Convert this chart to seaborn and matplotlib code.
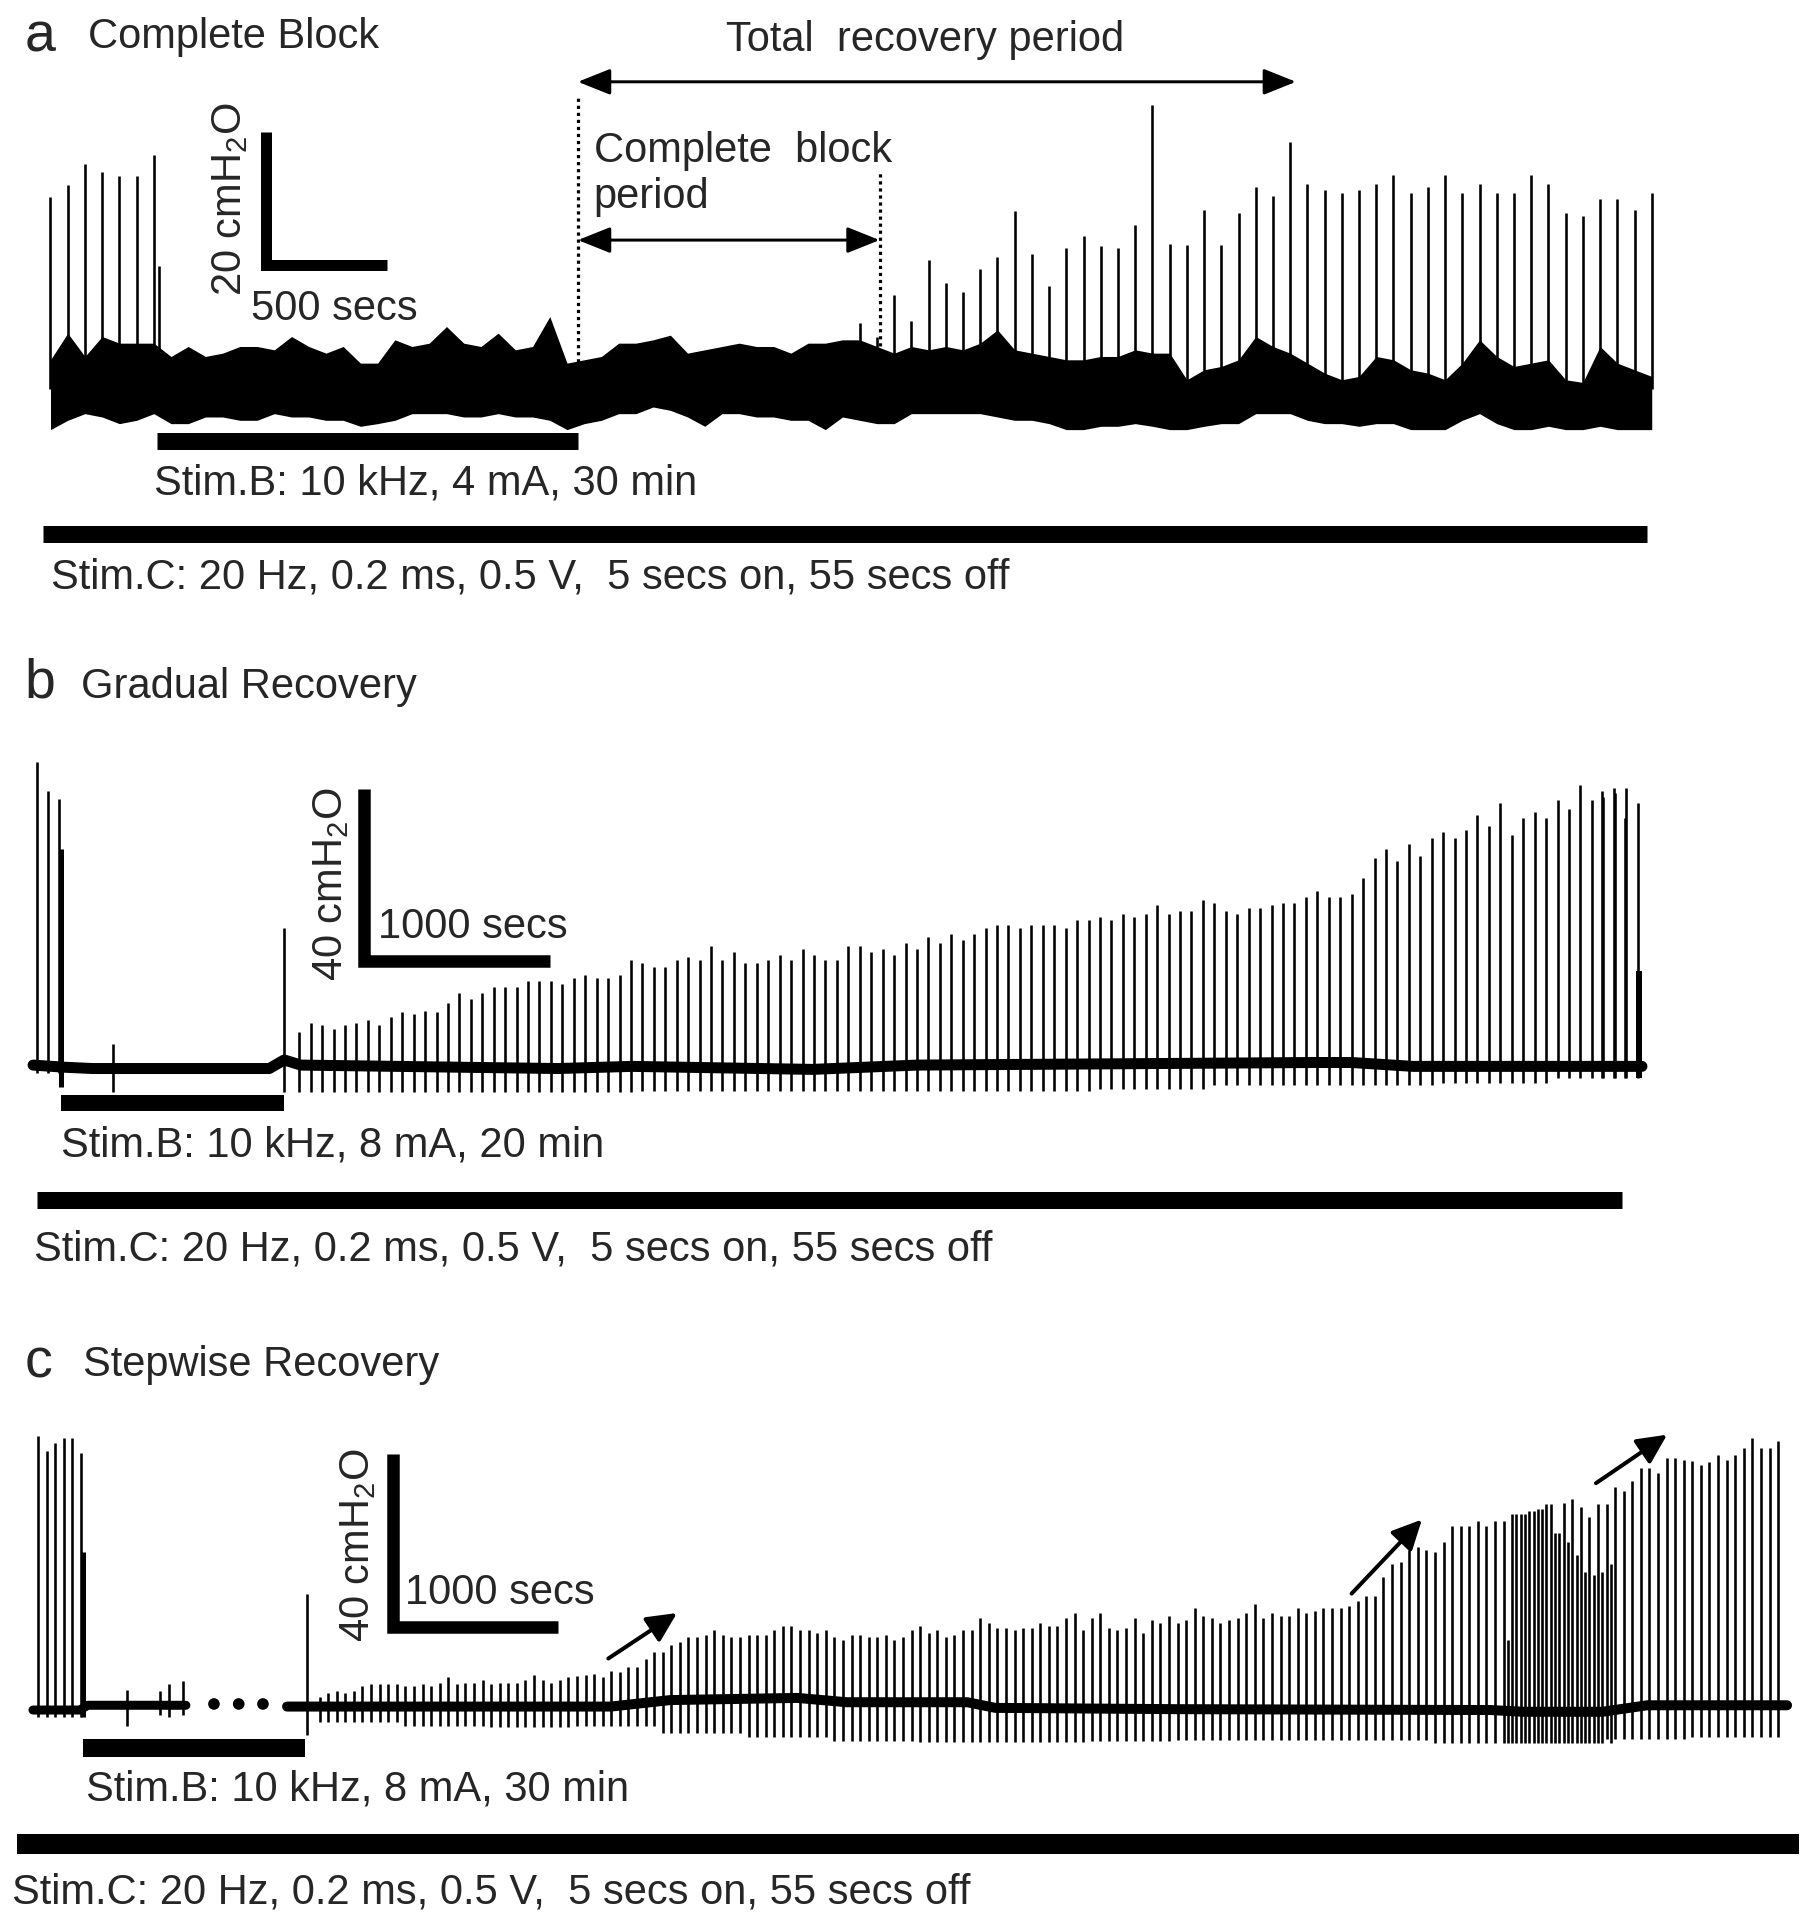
import matplotlib
matplotlib.use("Agg")
import matplotlib.pyplot as plt
import matplotlib.transforms as mtransforms
import numpy as np
import seaborn as sns

# ---------------- panel a : complete block ----------------
a_period = 71                      # secs between Stim.C trains (trace spacing)
a_pre_h = [28.9, 30.7, 33.8, 32.6, 32.0, 32.0, 35.2]       # cmH2O
a_extra_t = [447]
a_extra_h = [18.5]
a_rec_t0 = 3337
a_rec_h = [10.0, 7.9, 14.1, 10.2, 19.4, 16.0, 14.6, 18.0, 19.8, 26.8, 20.3, 15.5,
           21.2, 23.0, 21.5, 21.2, 24.7, 42.7, 21.8, 21.6, 26.9, 21.6, 26.5, 30.4,
           29.1, 37.1, 30.9, 30.0, 29.5, 30.0, 30.9, 32.2, 29.5, 30.4, 32.2, 29.5,
           30.9, 29.5, 29.5, 32.2, 30.9, 26.5, 26.0, 28.6, 28.6, 26.9, 29.5]
a_noise_hi = [4.4, 8.4, 4.9, 7.9, 6.9, 6.9, 6.9, 4.9, 6.4, 4.9, 5.4, 6.4, 6.4, 5.9,
              7.9, 6.4, 5.4, 6.4, 3.9, 3.9, 7.4, 6.4, 6.9, 9.4, 6.9, 6.4, 8.4, 5.9,
              6.4, 10.9, 3.9, 4.4, 4.9,
              6.9, 6.9, 7.4, 8.1, 5.4, 5.9, 6.4, 6.9, 6.4, 6.4, 5.4, 6.9, 6.9, 7.4,
              7.4, 6.4, 5.4, 6.4, 5.9, 6.4, 5.9, 6.9, 8.9, 5.9, 5.4, 4.9, 4.4, 4.4,
              4.9, 4.9, 5.9, 5.4, 5.4,
              1.4, 2.9, 3.4, 4.4, 7.9, 6.4, 5.4, 3.9, 2.4, 1.4, 1.9, 4.9, 4.4, 2.9,
              2.4, 1.4, 3.9, 7.4, 4.9, 3.4, 3.9, 4.4, 1.4, 1.0, 6.4, 3.9, 2.9, 1.9]
a_noise_lo = [-6.1, -4.7, -3.7, -4.2, -5.2, -4.7, -3.7, -5.2, -5.2, -4.2, -4.2, -4.7,
              -4.7, -3.7, -4.2, -4.2, -4.7, -4.7, -5.6, -5.2, -4.7, -3.7, -3.7, -3.7,
              -4.2, -4.2, -3.7, -4.2, -4.2, -4.7, -6.1, -5.2, -4.7,
              -3.7, -3.7, -2.7, -3.2, -4.2, -5.6, -3.7, -3.7, -4.2, -4.2, -4.7, -4.7,
              -6.1, -4.2, -4.7, -5.2, -5.2, -3.7, -3.7, -3.7, -3.7, -3.7, -4.2, -4.7,
              -4.7, -5.2, -6.1, -6.1, -5.6, -5.6, -5.2, -5.6, -6.1,
              -6.1, -5.6, -5.2, -5.2, -3.7, -3.7, -3.7, -4.7, -5.2, -5.2, -5.6, -5.2,
              -5.2, -6.1, -6.1, -6.1, -4.7, -3.7, -5.2, -6.1, -6.1, -5.6, -6.1, -6.1,
              -5.6, -6.1, -6.1, -6.1]
a_stim_b = [438, 2174]
a_stim_c = [-31, 6585]
a_total_recovery = [2175, 5136]
a_block_period = [2175, 3419]

# ---------------- panel b : gradual recovery ----------------
b_period = 61.5
b_pre_t = [0, 59, 121, 132]
b_pre_h = [70.7, 64.0, 62.0, 50.3]
b_pre_lo = [-1.9, -1.9, -1.9, -5.0]
b_event_t = [412, 1329]
b_event_h = [5.0, 32.0]
b_event_lo = [-6.2, -6.2]
b_rec_t0 = 1411
b_rec_h = [7.8, 9.9, 9.3, 8.5, 9.3, 9.9, 10.6, 9.3, 11.3, 12.4, 11.9, 12.7, 12.4, 14.5,
           16.7, 15.3, 16.7, 18.1, 18.3, 18.3, 19.7, 19.7, 19.7,
           18.9, 20.2, 21.0, 20.2, 20.2, 21.0, 24.5, 23.7, 22.9, 22.9, 24.4, 25.1, 24.4,
           27.8, 24.4, 26.3, 23.7, 23.7, 24.4, 25.7, 24.4, 27.1, 25.7, 24.4, 24.4, 27.8,
           27.8, 26.3, 27.1, 25.7, 28.5, 27.1, 29.8, 28.5, 30.5, 29.2, 30.5, 31.9, 32.6,
           32.6, 31.9, 32.6, 32.6, 32.6, 31.9, 33.9, 33.9, 34.6, 33.9,
           35.2, 34.6, 35.2, 37.3, 35.2, 35.9, 35.9, 38.6, 37.9, 35.9, 35.2, 36.6, 36.6,
           37.3, 37.9, 37.9, 39.3, 40.6, 39.3, 39.3, 40.0, 43.5, 48.2, 50.3, 47.5, 51.6,
           48.8, 53.0, 54.3, 53.0, 54.9, 58.4, 55.7, 61.1, 53.6, 57.7, 59.1, 57.7, 61.8,
           59.8, 65.3, 61.8, 62.5, 63.4, 64.5, 61.1]
b_rec_lo = [-6.2, -6.2, -6.2, -6.0, -6.0, -6.0, -6.0, -5.5, -4.7, -4.7, -4.2, -3.0]  # per 10 cycles
b_end_t = [8416, 8478, 8537, 8614]
b_end_h = [63.9, 64.5, 57.7, 22.0]
b_base_t = [-20, 150, 300, 1250, 1330, 1420, 2800, 3200, 4170, 4730, 6860, 7070, 7400, 8300, 8630]
b_base_v = [0.0, -0.5, -0.8, -0.8, 1.2, 0.0, -0.8, -0.3, -1.0, 0.0, 0.6, 0.6, -0.3, -0.3, -0.3]
b_stim_b = [130, 1329]
b_stim_c = [0, 8521]

# ---------------- panel c : stepwise recovery ----------------
c_period = 52
c_pre_t = [0, 52, 103, 153, 206, 258, 270]
c_pre_h = [62.5, 59.1, 60.8, 62.0, 62.0, 58.5, 35.7]
c_block_t = [534, 737, 792, 876]
c_block_h = [3.9, 3.5, 5.2, 5.8]
c_block_lo = [-4.6, -2.0, -2.5, -2.0]
c_event_t = [1625]
c_event_h = [26.0]
c_event_lo = [-6.5]
c_rec_t0 = 1704
c_rec_h = [2.3, 3.1, 3.5, 3.1, 3.5, 4.7, 5.1, 5.1, 5.1, 5.1, 4.7, 4.7, 5.1, 4.7, 5.4,
           6.9, 5.1, 5.4, 5.4, 6.2, 5.1, 5.4, 5.4, 5.4, 6.2, 7.3, 6.2, 5.4, 6.2,
           6.9, 7.1, 7.3, 7.5, 6.9, 8.3, 8.1, 9.1, 9.2, 10.9, 12.6, 12.6, 14.2, 14.8,
           16.0, 16.0, 16.6, 17.6, 16.6, 16.0, 16.0, 16.6, 16.6, 16.6, 17.6, 18.7, 18.7,
           17.6, 17.6, 17.0, 17.6, 16.0, 15.4, 16.6, 16.6, 16.0, 16.0, 16.6, 15.4, 16.0,
           17.6, 18.7, 17.0, 17.6, 16.0, 16.6, 17.6, 17.6, 20.4, 19.2, 18.1, 18.1, 17.6,
           18.1, 18.1, 19.2, 18.7, 18.7, 20.4, 21.6, 17.6, 20.4, 21.6, 18.1, 17.6,
           18.1, 20.4, 17.1, 19.9, 19.2, 20.9, 19.2, 19.9, 22.7, 20.9, 20.4, 19.2, 19.9,
           20.4, 21.6, 23.7, 20.4, 21.6, 20.9, 20.9, 22.7, 21.6, 22.1, 22.7, 22.7, 22.7,
           23.2, 24.4, 25.6, 25.6, 30.0, 33.0, 33.5, 36.2, 36.8, 36.2, 35.6, 37.9, 41.7,
           41.7, 41.7, 42.9, 41.7, 42.9, 42.9, 44.5, 44.5, 45.1, 45.6, 46.8, 40.1, 47.0,
           47.9, 46.2, 43.9, 46.8, 46.8, 50.8, 49.7, 52.0, 55.2, 55.2, 54.0, 57.5, 57.5,
           57.0, 56.8, 55.8, 56.4, 58.1, 57.0, 58.1, 59.7, 62.0, 59.7, 59.7, 61.4]
c_rec_lo = [-3.5, -4.5, -4.8, -4.6, -6.0, -7.0, -8.0, -8.2, -8.2, -8.0, -7.7, -7.7,
            -7.7, -8.5, -8.5, -7.5, -7.0, -7.0]            # per 10 cycles
c_extra_t0 = 8906
c_extra_h = [15.4, 44.5, 44.5, 45.1, 45.6, 46.8, 40.1, 38.0, 35.0, 31.0, 30.5, 31.0, 33.0]
c_pre_base_t = [-33, 250, 300, 894]
c_pre_base_v = [-0.8, -0.8, 0.3, 0.3]
c_post_base_t = [1507, 3470, 3830, 4600, 4900, 5630, 5800, 6900, 8800, 9000, 9480, 9750, 10598]
c_post_base_v = [0.0, 0.0, 1.5, 2.0, 1.0, 1.0, -0.3, -0.6, -0.8, -1.2, -1.2, 0.3, 0.3]
c_gap_dots_t = [1064, 1214, 1361]
c_stim_b = [270, 1616]
c_stim_c = [-129, 10670]
c_arrows = [(3454, 11.1, 3870, 21.6), (7959, 26.1, 8385, 43.2), (9440, 51.6, 9871, 62.8)]

# ---------------- drawing ----------------
sns.set_theme(style="white")
plt.rcParams['font.family'] = ['Liberation Sans', 'DejaVu Sans']
plt.rcParams['mathtext.fontset'] = 'custom'
plt.rcParams['mathtext.rm'] = 'Liberation Sans'

PT = 0.72          # points per pixel at dpi 100
TXT = 30
K = 'black'

fig = plt.figure(figsize=(18.08, 19.2), dpi=100)


def panel_axes(xlim, ylim):
    ax = fig.add_axes([0, 0, 1, 1])
    ax.set_xlim(*xlim)
    ax.set_ylim(*ylim)
    ax.axis('off')
    ax.patch.set_alpha(0)
    return ax


def spikes(ax, t, lo, hi, px=2.6):
    ax.vlines(t, lo, hi, color=K, linewidth=px * PT)


def bar(ax, span, y, px=17):
    ax.plot(span, [y, y], color=K, lw=px * PT, solid_capstyle='butt')


def scale_bar(ax, t0, y0, dx, dy, px=12):
    ax.plot([t0, t0, t0 + dx], [y0 + dy, y0, y0], color=K, lw=px * PT,
            solid_capstyle='butt', solid_joinstyle='miter')


def label(ax, x, y, s, rot=False, **kw):
    # small pixel nudge so glyph centres sit where the reference has them
    tr = mtransforms.offset_copy(ax.transData, fig=fig, x=5 if rot else 0,
                                 y=0 if rot else -3.7, units='dots')
    ax.text(x, y, s, fontsize=TXT, transform=tr, va='center',
            rotation=90 if rot else 0, ha='center' if rot else kw.pop('ha', 'left'), **kw)


def cycles(t0, period, n):
    return t0 + period * np.arange(n)


# panel a
ax = panel_axes((-208.2, 7247.4), (-230.2, 58.5))
a_t = np.arange(len(a_noise_hi)) * a_period
ax.fill_between(a_t, a_noise_lo, a_noise_hi, color=K, lw=0)
spikes(ax, cycles(0, a_period, len(a_pre_h)), 0, a_pre_h)
spikes(ax, a_extra_t, 0, a_extra_h)
spikes(ax, cycles(a_rec_t0, a_period, len(a_rec_h)), 0, a_rec_h)
dots = (0, (1, 1.2))
ax.plot([a_total_recovery[0]] * 2, [0.9, 44.2], color=K, lw=3.2 * PT, ls=dots)
ax.plot([a_block_period[1]] * 2, [5.4, 32.9], color=K, lw=3.2 * PT, ls=dots)
arrow2 = dict(arrowstyle='<|-|>,head_length=0.5,head_width=0.2', color=K,
              lw=3 * PT, mutation_scale=40, shrinkA=0, shrinkB=0)
ax.annotate('', xy=(a_total_recovery[1], 46.2), xytext=(a_total_recovery[0], 46.2), arrowprops=arrow2)
ax.annotate('', xy=(a_block_period[1], 22.4), xytext=(a_block_period[0], 22.4), arrowprops=arrow2)
label(ax, 3606, 53.0, 'Total  recovery period', ha='center')
label(ax, 2240, 36.4, 'Complete  block')
label(ax, 2240, 29.4, 'period')
scale_bar(ax, 887, 18.7, 500, 20, px=11)
label(ax, 720, 28.6, r'20 cmH$_\mathregular{2}$O', rot=True)
label(ax, 827, 12.6, '500 secs')
bar(ax, a_stim_b, -7.8)
label(ax, 427, -13.7, 'Stim.B: 10 kHz, 4 mA, 30 min')
bar(ax, a_stim_c, -21.8)
label(ax, 4, -27.8, 'Stim.C: 20 Hz, 0.2 ms, 0.5 V,  5 secs on, 55 secs off')

# panel b
ax = panel_axes((-197.8, 9522.6), (-199.3, 248.3))
sns.lineplot(x=b_base_t, y=b_base_v, ax=ax, color=K, lw=11 * PT)
spikes(ax, b_pre_t[:3], b_pre_lo[:3], b_pre_h[:3])
spikes(ax, b_pre_t[3:], b_pre_lo[3:], b_pre_h[3:], px=5)
spikes(ax, b_event_t, b_event_lo, b_event_h)
b_lo = np.repeat(b_rec_lo, 10)[:len(b_rec_h)]
spikes(ax, cycles(b_rec_t0, b_period, len(b_rec_h)), b_lo, b_rec_h)
spikes(ax, b_end_t[:3], -3.0, b_end_h[:3])
spikes(ax, b_end_t[3:], -3.0, b_end_h[3:], px=6)
scale_bar(ax, 1758, 24.3, 1000, 40, px=12.5)
label(ax, 1555, 42.2, r'40 cmH$_\mathregular{2}$O', rot=True)
label(ax, 1832, 33.0, '1000 secs')
bar(ax, b_stim_b, -8.9, px=16)
label(ax, 131, -17.9, 'Stim.B: 10 kHz, 8 mA, 20 min')
bar(ax, b_stim_c, -31.4)
label(ax, -13, -42.2, 'Stim.C: 20 Hz, 0.2 ms, 0.5 V,  5 secs on, 55 secs off')

# panel c
ax = panel_axes((-232.7, 10725), (-49.3, 394.2))
sns.lineplot(x=c_pre_base_t, y=c_pre_base_v, ax=ax, color=K, lw=9 * PT)
sns.lineplot(x=c_post_base_t, y=c_post_base_v, ax=ax, color=K, lw=10 * PT)
spikes(ax, c_pre_t[:6], -2.3, c_pre_h[:6])
spikes(ax, c_pre_t[6:], -2.3, c_pre_h[6:], px=5)
spikes(ax, c_block_t, c_block_lo, c_block_h)
spikes(ax, c_event_t, c_event_lo, c_event_h)
c_lo = np.repeat(c_rec_lo, 10)[:len(c_rec_h)]
spikes(ax, cycles(c_rec_t0, c_period, len(c_rec_h)), c_lo, c_rec_h)
spikes(ax, cycles(c_extra_t0, c_period, len(c_extra_h)), -8.5, c_extra_h)
ax.scatter(c_gap_dots_t, [0.6] * len(c_gap_dots_t), s=70, color=K, edgecolors='none')
arrow1 = dict(arrowstyle='-|>,head_length=0.45,head_width=0.22', color=K,
              lw=4 * PT, mutation_scale=40, shrinkA=0, shrinkB=0)
for t0, y0, t1, y1 in c_arrows:
    ax.annotate('', xy=(t1, y1), xytext=(t0, y0), arrowprops=arrow1)
scale_bar(ax, 2147, 18.3, 1000, 40, px=12.5)
label(ax, 1907, 37.3, r'40 cmH$_\mathregular{2}$O', rot=True)
label(ax, 2222, 27.0, '1000 secs')
bar(ax, c_stim_b, -9.6, px=18)
label(ax, 287, -18.3, 'Stim.B: 10 kHz, 8 mA, 30 min')
bar(ax, c_stim_c, -31.8, px=20)
label(ax, -159, -42.0, 'Stim.C: 20 Hz, 0.2 ms, 0.5 V,  5 secs on, 55 secs off')

# panel headers
H = 1920.0
for letter, title, y_l, x_t, y_t in [('a', 'Complete Block', 38, 88, 37),
                                     ('b', 'Gradual Recovery', 683, 81, 687),
                                     ('c', 'Stepwise Recovery', 1364, 83, 1365)]:
    fig.text(24.5 / 1808, 1 - y_l / H, letter, fontsize=40, ha='left', va='center')
    fig.text(x_t / 1808, 1 - y_t / H, title, fontsize=TXT, ha='left', va='center')

fig.savefig('out.png', dpi=100, facecolor='white')
